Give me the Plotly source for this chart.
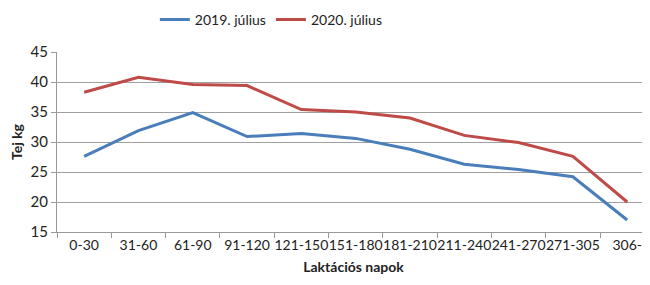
import plotly.graph_objects as go

categories = ["0-30", "31-60", "61-90", "91-120", "121-150", "151-180",
              "181-210", "211-240", "241-270", "271-305", "306-"]
y2019 = [27.6, 31.9, 34.9, 30.9, 31.4, 30.6, 28.8, 26.3, 25.4, 24.2, 17.0]
y2020 = [38.3, 40.8, 39.6, 39.4, 35.4, 35.0, 34.0, 31.1, 29.9, 27.6, 20.0]
names = ["2019. július", "2020. július"]

FONT = "Liberation Sans Narrow, Lato"
fig = go.Figure()
fig.add_trace(go.Scatter(x=categories, y=y2019, mode="lines", name=names[0],
                         line=dict(color="#4a7ebb", width=3)))
fig.add_trace(go.Scatter(x=categories, y=y2020, mode="lines", name=names[1],
                         line=dict(color="#be4b48", width=3)))

fig.update_layout(
    width=642, height=269,
    margin=dict(l=49, r=0, t=44, b=45, autoexpand=False),
    paper_bgcolor="white", plot_bgcolor="white",
    font=dict(family=FONT, size=13, color="#222"),
    legend=dict(orientation="h", x=0.165, xanchor="left", y=1.178, yanchor="middle",
                font=dict(size=14), itemwidth=30, tracegroupgap=0),
    xaxis=dict(type="category", showgrid=False, showline=True, linecolor="#999",
               ticks="outside", tickson="boundaries", ticklen=5, tickcolor="#999",
               tickfont=dict(size=14), tickangle=0, range=[-0.5, 10.42], automargin=False,
               title=dict(text="<b>Laktációs napok</b>", font=dict(size=14), standoff=10)),
    yaxis=dict(range=[15, 45], dtick=5, showgrid=True, gridcolor="#a0a0a0",
               showline=True, linecolor="#999", ticks="outside", ticklen=5, automargin=False,
               tickcolor="#999", tickfont=dict(size=15),
               title=dict(text="<b>Tej kg</b>", font=dict(size=14), standoff=12)),
)
fig.write_html("out.html")
